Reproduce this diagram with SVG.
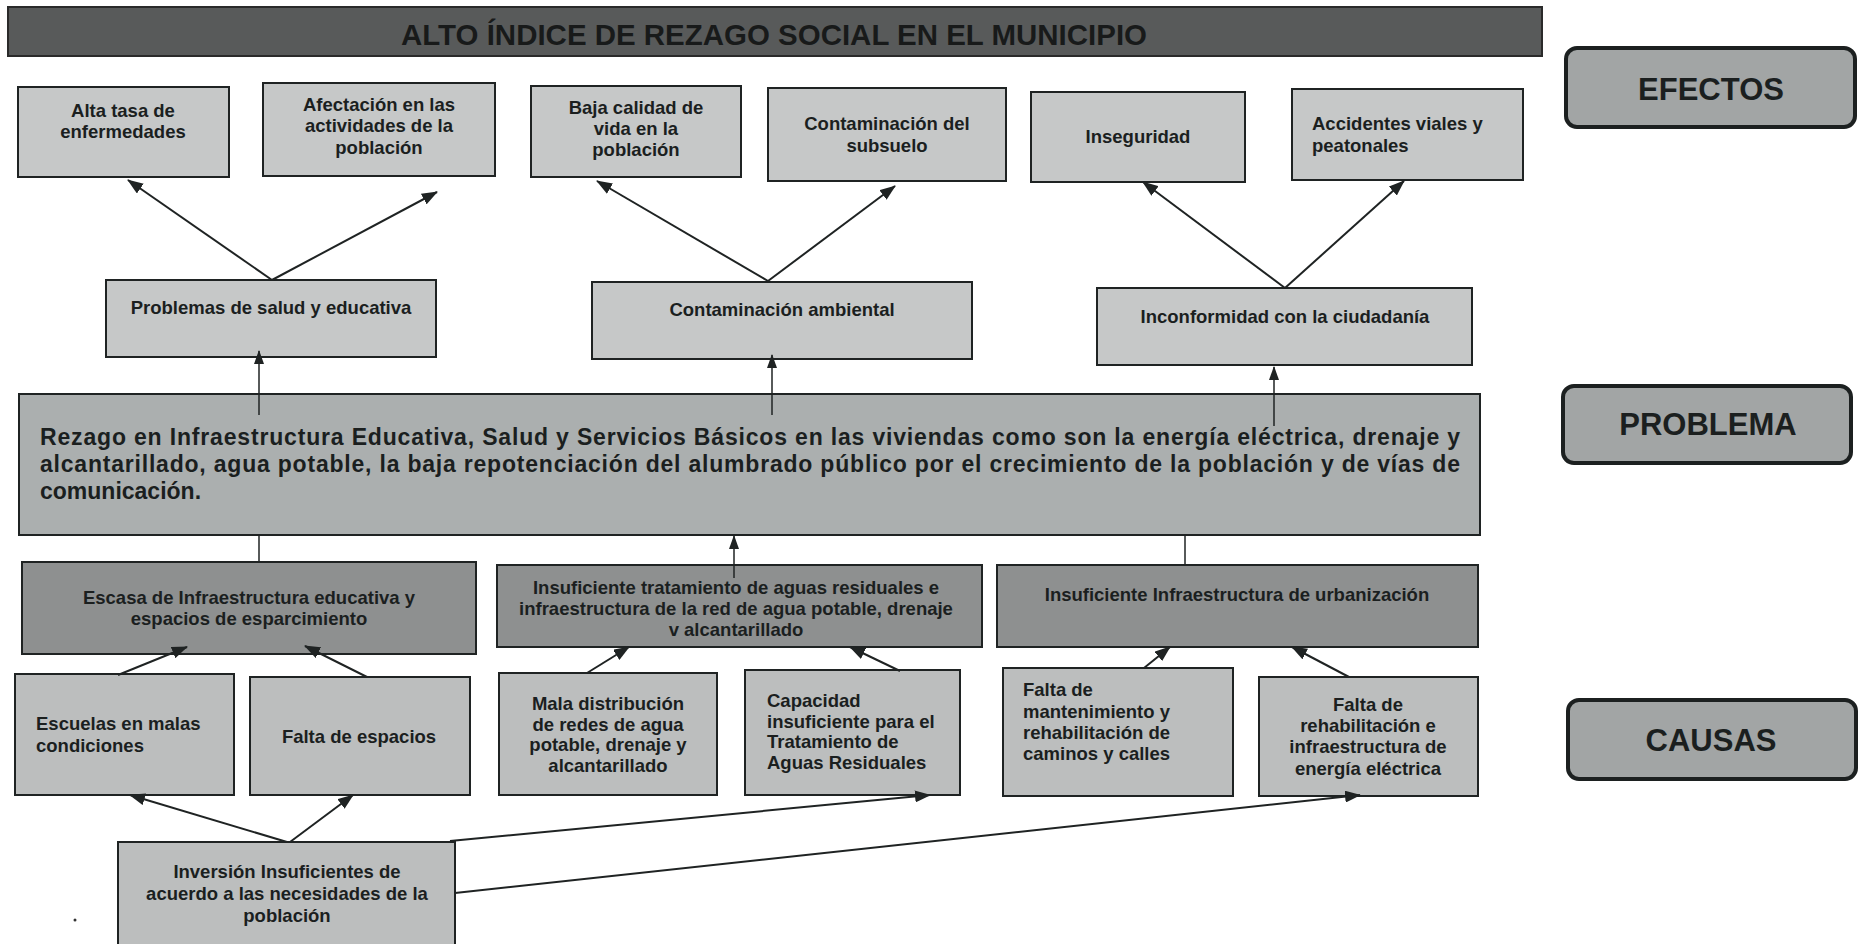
<svg xmlns="http://www.w3.org/2000/svg" width="1867" height="944" viewBox="0 0 1867 944">
<style>
  text { font-family: "Liberation Sans", Arial, sans-serif; font-weight: bold; fill: #1b1f1f; }
  .t { font-size: 18.5px; }
  .c { text-anchor: middle; }
  .box { stroke: #1f2323; stroke-width: 2; }
  .light { fill: #c6c8c8; }
  .light2 { fill: #bcbebe; }
  .dark { fill: #8e9090; }
  .prob { fill: #abafaf; }
  .lbl { fill: #a2a5a5; stroke: #1c2020; stroke-width: 4; }
  .lt { font-size: 31px; text-anchor: middle; }
  .pt { font-size: 23px; }
  .ln { stroke: #1f2323; fill: none; }
  .w2 { stroke-width: 2; marker-end: url(#ah); }
  .w1 { stroke-width: 1.5; marker-end: url(#ahs); }
  .w0 { stroke-width: 1.5; }
</style>
<defs>
  <marker id="ah" viewBox="0 0 16 12" refX="15" refY="6" markerWidth="16" markerHeight="12" markerUnits="userSpaceOnUse" orient="auto">
    <path d="M0,0 L16,6 L0,12 Z" fill="#1f2323"/>
  </marker>
  <marker id="ahs" viewBox="0 0 14 10" refX="13" refY="5" markerWidth="14" markerHeight="10" markerUnits="userSpaceOnUse" orient="auto">
    <path d="M0,0 L14,5 L0,10 Z" fill="#1f2323"/>
  </marker>
</defs>
<rect width="1867" height="944" fill="#ffffff"/>

<g id="title">
  <rect x="8" y="7" width="1534" height="49" fill="#585a5a" stroke="#2a2a2a" stroke-width="2"/>
  <text x="774" y="45" font-size="30" text-anchor="middle" textLength="746" lengthAdjust="spacingAndGlyphs" style="fill:#181a1a">ALTO ÍNDICE DE REZAGO SOCIAL EN EL MUNICIPIO</text>
</g>

<g id="label-efectos">
  <rect class="lbl" x="1566" y="48" width="289" height="79" rx="11"/>
  <text class="lt" x="1711" y="100">EFECTOS</text>
</g>
<g id="label-problema">
  <rect class="lbl" x="1563" y="386" width="288" height="77" rx="11"/>
  <text class="lt" x="1708" y="435">PROBLEMA</text>
</g>
<g id="label-causas">
  <rect class="lbl" x="1568" y="700" width="288" height="79" rx="11"/>
  <text class="lt" x="1711" y="751">CAUSAS</text>
</g>

<g id="e1">
  <rect class="box light" x="18" y="87" width="211" height="90"/>
  <text class="t c" x="123" y="117">Alta tasa de</text>
  <text class="t c" x="123" y="138">enfermedades</text>
</g>
<g id="e2">
  <rect class="box light" x="263" y="83" width="232" height="93"/>
  <text class="t c" x="379" y="111">Afectación en las</text>
  <text class="t c" x="379" y="132">actividades de la</text>
  <text class="t c" x="379" y="154">población</text>
</g>
<g id="e3">
  <rect class="box light" x="531" y="86" width="210" height="91"/>
  <text class="t c" x="636" y="114">Baja calidad de</text>
  <text class="t c" x="636" y="135">vida en la</text>
  <text class="t c" x="636" y="156">población</text>
</g>
<g id="e4">
  <rect class="box light" x="768" y="88" width="238" height="93"/>
  <text class="t c" x="887" y="130">Contaminación del</text>
  <text class="t c" x="887" y="152">subsuelo</text>
</g>
<g id="e5">
  <rect class="box light" x="1031" y="92" width="214" height="90"/>
  <text class="t c" x="1138" y="143">Inseguridad</text>
</g>
<g id="e6">
  <rect class="box light" x="1292" y="89" width="231" height="91"/>
  <text class="t" x="1312" y="130">Accidentes viales y</text>
  <text class="t" x="1312" y="152">peatonales</text>
</g>

<g id="m1">
  <rect class="box light" x="106" y="280" width="330" height="77"/>
  <text class="t c" x="271" y="314">Problemas de salud y educativa</text>
</g>
<g id="m2">
  <rect class="box light" x="592" y="282" width="380" height="77"/>
  <text class="t c" x="782" y="316">Contaminación ambiental</text>
</g>
<g id="m3">
  <rect class="box light" x="1097" y="288" width="375" height="77"/>
  <text class="t c" x="1285" y="323">Inconformidad con la ciudadanía</text>
</g>

<g id="problema">
  <rect class="box prob" x="19" y="394" width="1461" height="141"/>
  <text class="pt" x="40" y="445" textLength="1420" lengthAdjust="spacing">Rezago en Infraestructura Educativa, Salud y Servicios Básicos en las viviendas como son la energía eléctrica, drenaje y</text>
  <text class="pt" x="40" y="472" textLength="1420" lengthAdjust="spacing">alcantarillado, agua potable, la baja repotenciación del alumbrado público por el crecimiento de la población y de vías de</text>
  <text class="pt" x="40" y="499">comunicación.</text>
</g>

<g id="cA">
  <rect class="box dark" x="22" y="562" width="454" height="92"/>
  <text class="t c" x="249" y="604">Escasa de Infraestructura educativa y</text>
  <text class="t c" x="249" y="625">espacios de esparcimiento</text>
</g>
<g id="cB">
  <rect class="box dark" x="497" y="565" width="485" height="82"/>
  <text class="t c" x="736" y="594">Insuficiente tratamiento de aguas residuales e</text>
  <text class="t c" x="736" y="615">infraestructura de la red de agua potable, drenaje</text>
  <text class="t c" x="736" y="636">v alcantarillado</text>
</g>
<g id="cC">
  <rect class="box dark" x="997" y="565" width="481" height="82"/>
  <text class="t c" x="1237" y="601">Insuficiente Infraestructura de urbanización</text>
</g>

<g id="d1">
  <rect class="box light2" x="15" y="674" width="219" height="121"/>
  <text class="t" x="36" y="730">Escuelas en malas</text>
  <text class="t" x="36" y="752">condiciones</text>
</g>
<g id="d2">
  <rect class="box light2" x="250" y="677" width="220" height="118"/>
  <text class="t c" x="359" y="743">Falta de espacios</text>
</g>
<g id="d3">
  <rect class="box light2" x="499" y="673" width="218" height="122"/>
  <text class="t c" x="608" y="710">Mala distribución</text>
  <text class="t c" x="608" y="731">de redes de agua</text>
  <text class="t c" x="608" y="751">potable, drenaje y</text>
  <text class="t c" x="608" y="772">alcantarillado</text>
</g>
<g id="d4">
  <rect class="box light2" x="745" y="670" width="215" height="125"/>
  <text class="t" x="767" y="707">Capacidad</text>
  <text class="t" x="767" y="728">insuficiente para el</text>
  <text class="t" x="767" y="748">Tratamiento de</text>
  <text class="t" x="767" y="769">Aguas Residuales</text>
</g>
<g id="d5">
  <rect class="box light2" x="1003" y="668" width="230" height="128"/>
  <text class="t" x="1023" y="696">Falta de</text>
  <text class="t" x="1023" y="718">mantenimiento y</text>
  <text class="t" x="1023" y="739">rehabilitación de</text>
  <text class="t" x="1023" y="760">caminos y calles</text>
</g>
<g id="d6">
  <rect class="box light2" x="1259" y="677" width="219" height="119"/>
  <text class="t c" x="1368" y="711">Falta de</text>
  <text class="t c" x="1368" y="732">rehabilitación e</text>
  <text class="t c" x="1368" y="753">infraestructura de</text>
  <text class="t c" x="1368" y="775">energía eléctrica</text>
</g>

<g id="inversion">
  <rect class="box light2" x="118" y="842" width="337" height="110"/>
  <text class="t c" x="287" y="878">Inversión Insuficientes de</text>
  <text class="t c" x="287" y="900">acuerdo a las necesidades de la</text>
  <text class="t c" x="287" y="922">población</text>
</g>

<g id="connectors">
  <line class="ln w2" x1="272" y1="280" x2="128" y2="180"/>
  <line class="ln w2" x1="272" y1="280" x2="437" y2="192"/>
  <line class="ln w2" x1="768" y1="281" x2="597" y2="181"/>
  <line class="ln w2" x1="768" y1="281" x2="895" y2="186"/>
  <line class="ln w2" x1="1285" y1="288" x2="1143" y2="182"/>
  <line class="ln w2" x1="1285" y1="288" x2="1404" y2="181"/>

  <line class="ln w1" x1="259" y1="415" x2="259" y2="351"/>
  <line class="ln w1" x1="772" y1="415" x2="772" y2="355"/>
  <line class="ln w1" x1="1274" y1="426" x2="1274" y2="367"/>
  <line class="ln w1" x1="734" y1="578" x2="734" y2="536"/>
  <line class="ln w0" x1="259" y1="535" x2="259" y2="562"/>
  <line class="ln w0" x1="1185" y1="535" x2="1185" y2="565"/>

  <line class="ln w2" x1="118" y1="675" x2="187" y2="647"/>
  <line class="ln w2" x1="367" y1="677" x2="305" y2="646"/>
  <line class="ln w2" x1="587" y1="673" x2="629" y2="647"/>
  <line class="ln w2" x1="900" y1="671" x2="850" y2="647"/>
  <line class="ln w2" x1="1144" y1="668" x2="1170" y2="647"/>
  <line class="ln w2" x1="1349" y1="677" x2="1292" y2="647"/>

  <line class="ln w2" x1="287" y1="842" x2="130" y2="795"/>
  <line class="ln w2" x1="290" y1="842" x2="353" y2="795"/>
  <line class="ln w2" x1="450" y1="841" x2="930" y2="795"/>
  <line class="ln w2" x1="455" y1="893" x2="1360" y2="795"/>
</g>
<circle cx="75" cy="920" r="1.5" fill="#333"/>
</svg>
